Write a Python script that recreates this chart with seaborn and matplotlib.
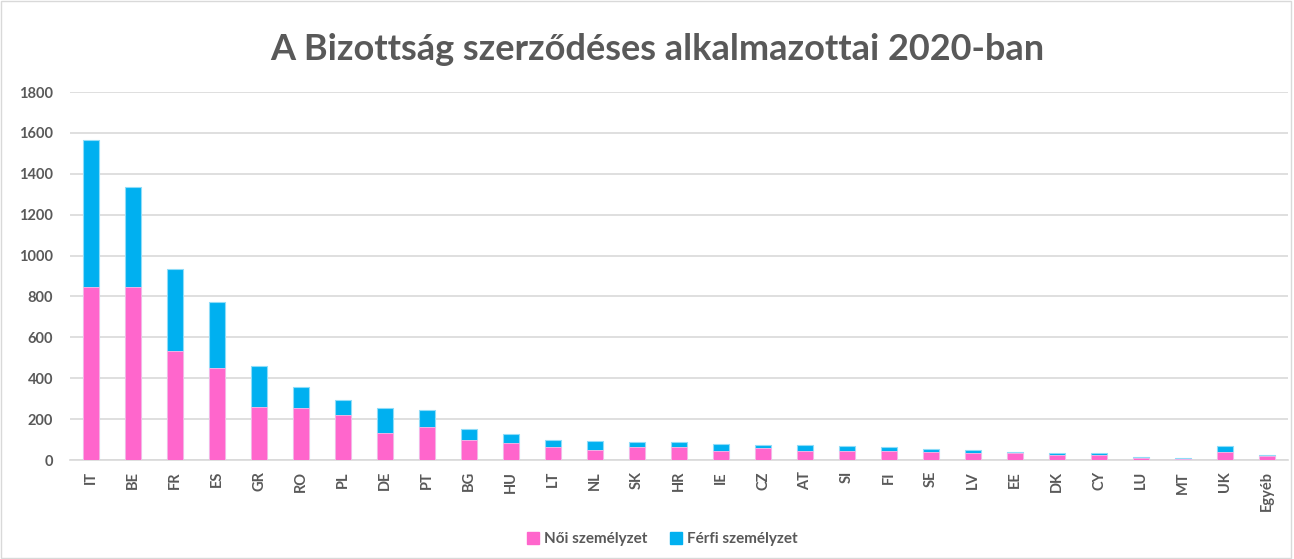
import pandas as pd
import numpy as np
import matplotlib
matplotlib.use("Agg")
import matplotlib.pyplot as plt
import seaborn as sns
from matplotlib.patches import Patch

# Data
countries = ['IT', 'BE', 'FR', 'ES', 'GR', 'RO', 'PL', 'DE', 'PT', 'BG', 'HU', 'LT', 'NL', 'SK', 'HR',
             'IE', 'CZ', 'AT', 'SI', 'FI', 'SE', 'LV', 'EE', 'DK', 'CY', 'LU', 'MT', 'UK', 'Egyéb']
noi = [846, 848, 535, 450, 261, 254, 218, 130, 160, 98, 81, 65, 51, 64, 63,
       46, 57, 44, 42, 44, 38, 34, 33, 23, 23, 8, 5, 39, 18]
osszes = [1565, 1333, 934, 773, 460, 358, 292, 256, 244, 150, 127, 96, 93, 88, 88,
          77, 75, 73, 67, 64, 54, 49, 41, 34, 34, 15, 10, 67, 24]
ferfi = [t - n for t, n in zip(osszes, noi)]

df = pd.DataFrame({'orszag': countries, 'noi': noi, 'ferfi': ferfi, 'osszes': osszes})

pink = '#FF66CC'
blue = '#00B0F0'
gray = '#595959'

sns.set_theme(style="white")
plt.rcParams['font.family'] = ['Lato', 'DejaVu Sans']

fig = plt.figure(figsize=(12.94, 5.59), dpi=100)
ax = fig.add_axes([70 / 1294, 1 - 460 / 559, 1218 / 1294, 368 / 559])

# stacked: total (blue) underneath, female (pink) on top of it
sns.barplot(data=df, x='orszag', y='osszes', color=blue, width=0.4, saturation=1, ax=ax, zorder=3,
            edgecolor='#8FDCF8', linewidth=0.8)
sns.barplot(data=df, x='orszag', y='noi', color=pink, width=0.4, saturation=1, ax=ax, zorder=4,
            edgecolor='#FFB8E6', linewidth=0.6)

ax.set_ylim(0, 1800)
ax.set_xlim(-0.5, len(countries) - 0.5)
ax.set_yticks(np.arange(0, 1801, 200))
ax.yaxis.grid(True, color='#D9D9D9', linewidth=1.2, zorder=0)
ax.set_axisbelow(True)
for s in ['top', 'right', 'left']:
    ax.spines[s].set_visible(False)
ax.spines['bottom'].set_color('#D9D9D9')
ax.spines['bottom'].set_linewidth(1.2)
ax.set_xlabel('')
ax.set_ylabel('')
ax.tick_params(axis='y', length=0, pad=12, labelsize=10.5, labelcolor=gray)
ax.tick_params(axis='x', length=0, pad=8, labelsize=10.5, labelcolor=gray, rotation=90)
for lbl in ax.get_yticklabels() + ax.get_xticklabels():
    lbl.set_fontweight('bold')

fig.text(657 / 1294, 1 - 50 / 559, 'A Bizottság szerződéses alkalmazottai 2020-ban', ha='center', va='center',
         fontsize=26, fontweight='bold', color=gray)

handles = [Patch(color=pink, label='Női személyzet'), Patch(color=blue, label='Férfi személyzet')]
leg = fig.legend(handles=handles, loc='center', bbox_to_anchor=(662 / 1294, 1 - 539 / 559), ncol=2, frameon=False,
                 handlelength=0.8, handleheight=0.8, handletextpad=0.3, columnspacing=1.5,
                 prop={'weight': 'bold', 'size': 11})
for t in leg.get_texts():
    t.set_color(gray)

# light chart-area border
fig.patches.append(plt.Rectangle((0.001, 0.002), 0.997, 0.996, transform=fig.transFigure,
                                 fill=False, edgecolor='#D9D9D9', linewidth=1))

fig.savefig('out.png', dpi=100)
